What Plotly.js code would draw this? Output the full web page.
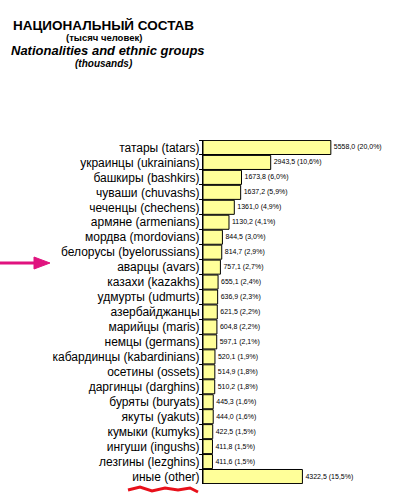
<!DOCTYPE html>
<html><head><meta charset="utf-8">
<script src="https://cdn.plot.ly/plotly-3.0.1.min.js"></script>
<style>html,body{margin:0;padding:0;background:#fff}</style>
</head><body>
<div id="chart" style="width:395px;height:498px"></div>
<script>
const categories = ["татары (tatars)","украинцы (ukrainians)","башкиры (bashkirs)","чуваши (chuvashs)","чеченцы (chechens)","армяне (armenians)","мордва (mordovians)","белорусы (byelorussians)","аварцы (avars)","казахи (kazakhs)","удмурты (udmurts)","азербайджанцы","марийцы (maris)","немцы (germans)","кабардинцы (kabardinians)","осетины (ossets)","даргинцы (darghins)","буряты (buryats)","якуты (yakuts)","кумыки (kumyks)","ингуши (ingushs)","лезгины (lezghins)","иные (other)"];
const thousands = [5558.0,2943.5,1673.8,1637.2,1361.0,1130.2,844.5,814.7,757.1,655.1,636.9,621.5,604.8,597.1,520.1,514.9,510.2,445.3,444.0,422.5,411.8,411.6,4322.5];
const shares = [20.0,10.6,6.0,5.9,4.9,4.1,3.0,2.9,2.7,2.4,2.3,2.2,2.2,2.1,1.9,1.8,1.8,1.6,1.6,1.5,1.5,1.5,15.5];

const fmt = v => v.toFixed(1).replace('.', ',');
const labels = thousands.map((v,i) => fmt(v) + ' (' + fmt(shares[i]) + '%)');

const trace = {
  type: 'bar', orientation: 'h',
  x: thousands, y: categories,
  text: labels, textposition: 'outside', constraintext: 'none', cliponaxis: false,
  textfont: {family: 'Liberation Sans, Arial, sans-serif', size: 7, color: '#000'},
  marker: {color: '#FFFF99', line: {color: '#000', width: 1}},
  hoverinfo: 'none'
};

const L = 203, W = 184, T = 140, H = 344;
const px = x => (x - L) / W, py = y => 1 - (y - T) / H;

const layout = {
  width: 395, height: 498,
  margin: {l: L, r: 395 - L - W, t: T, b: 498 - T - H},
  paper_bgcolor: '#fff', plot_bgcolor: '#fff',
  bargap: 0.06,
  showlegend: false,
  font: {family: 'Liberation Sans, Arial, sans-serif', color: '#000'},
  xaxis: {range: [0, 8000], visible: false, fixedrange: true},
  yaxis: {
    autorange: false, range: [22.5, -0.5], type: 'category',
    showline: true, linecolor: '#000', linewidth: 1,
    ticks: 'outside', tickson: 'boundaries', ticklen: 3, tickcolor: '#000',
    tickfont: {size: 12, color: '#000'}, showgrid: false, zeroline: false
  },
  annotations: [
    {text: '<b>НАЦИОНАЛЬНЫЙ СОСТАВ</b>', x: 103, y: 25, size: 13.5},
    {text: '<b>(тысяч человек)</b>', x: 104, y: 38, size: 9.5},
    {text: '<b><i>Nationalities and ethnic groups</i></b>', x: 108, y: 50, size: 13},
    {text: '<b><i>(thousands)</i></b>', x: 104, y: 63, size: 10}
  ].map(a => ({text: a.text, xref: 'paper', yref: 'paper', x: px(a.x), y: py(a.y), showarrow: false, font: {size: a.size}, xanchor: 'center', yanchor: 'middle'})),
  shapes: [
    {type: 'line', xref: 'paper', yref: 'paper', x0: px(0), x1: px(36), y0: py(263), y1: py(263), line: {color: '#E0137F', width: 3}},
    {type: 'path', xref: 'paper', yref: 'paper',
      path: 'M ' + px(34) + ' ' + py(257) + ' L ' + px(50) + ' ' + py(263) + ' L ' + px(34) + ' ' + py(269) + ' Z',
      fillcolor: '#E0137F', line: {color: '#E0137F', width: 1}},
    {type: 'path', xref: 'paper', yref: 'paper',
      path: [[128,490],[140,487],[152,491],[165,488],[178,490],[190,488],[198,492]].map((p,i)=> (i?'L ':'M ') + px(p[0]) + ' ' + py(p[1])).join(' '),
      line: {color: '#E8101A', width: 3}}
  ]
};

Plotly.newPlot('chart', [trace], layout, {displayModeBar: false, staticPlot: true});
</script>
</body></html>
